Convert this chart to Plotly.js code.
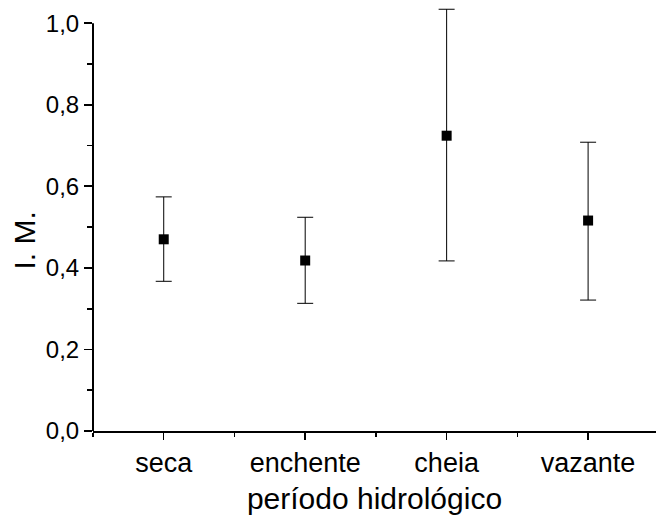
<!DOCTYPE html>
<html>
<head>
<meta charset="utf-8">
<script src="https://cdn.plot.ly/plotly-3.0.1.min.js"></script>
<style>
  html, body { margin: 0; padding: 0; background: #fff; }
  #chart { width: 656px; height: 515px; }
</style>
</head>
<body>
<div id="chart"></div>
<script>
// Índice médio (I. M.) por período hidrológico: média com limites inferior e superior
const categories = ['seca', 'enchente', 'cheia', 'vazante'];
const means = [0.470, 0.418, 0.724, 0.516];
const upper = [0.574, 0.524, 1.034, 0.708];
const lower = [0.367, 0.313, 0.417, 0.321];
const yTickVals = [0, 0.2, 0.4, 0.6, 0.8, 1.0];

const xPos = categories.map((_, i) => i);
const errPlus = upper.map((u, i) => u - means[i]);
const errMinus = lower.map((l, i) => means[i] - l);

const FONT = 'Arial, "Liberation Sans", sans-serif';
const yTop = yTickVals[yTickVals.length - 1];

const trace = {
  type: 'scatter',
  mode: 'markers',
  x: xPos,
  y: means,
  cliponaxis: false,
  marker: { symbol: 'square', size: 10, color: '#000' },
  error_y: {
    type: 'data',
    symmetric: false,
    array: errPlus,
    arrayminus: errMinus,
    color: '#000',
    thickness: 1,
    width: 8
  },
  hoverinfo: 'skip',
  showlegend: false
};

const layout = {
  width: 656,
  height: 515,
  // the value range runs a little past 1,0 so the tallest whisker stays visible;
  // the left axis line itself stops at 1,0 (drawn as a shape below)
  margin: { l: 93, r: 0, t: 6, b: 84 },
  paper_bgcolor: '#fff',
  plot_bgcolor: '#fff',
  separators: ',.',
  font: { family: FONT, color: '#000' },
  xaxis: {
    range: [-0.5, 3.48],
    tickmode: 'array',
    tickvals: xPos,
    ticktext: categories,
    ticks: 'outside',
    ticklen: 7,
    tickwidth: 1.5,
    tickcolor: '#000',
    minor: { tickvals: [-0.5, 0.5, 1.5, 2.5], ticks: 'outside', ticklen: 4, tickwidth: 1.5, tickcolor: '#000' },
    showline: true,
    linecolor: '#000',
    linewidth: 2,
    showgrid: false,
    zeroline: false,
    tickfont: { size: 27, family: FONT, color: '#000' },
    title: { text: 'período hidrológico', font: { size: 30, family: FONT, color: '#000' }, standoff: 13 }
  },
  yaxis: {
    range: [0, 1.042],
    tickmode: 'array',
    tickvals: yTickVals,
    tickformat: '.1f',
    ticks: 'outside',
    ticklen: 8,
    tickwidth: 1.8,
    tickcolor: '#000',
    minor: { dtick: 0.1, tick0: 0, ticks: 'outside', ticklen: 5, tickwidth: 1.8, tickcolor: '#000' },
    showline: false,
    showgrid: false,
    zeroline: false,
    tickfont: { size: 24, family: FONT, color: '#000' }
  },
  shapes: [{
    type: 'line',
    xref: 'paper', yref: 'y',
    x0: 0, x1: 0, y0: 0, y1: yTop,
    line: { color: '#000', width: 2 },
    layer: 'above'
  }],
  annotations: [{
    text: 'I. M.',
    xref: 'paper', yref: 'y',
    x: 0, y: 0.467,
    xanchor: 'center', yanchor: 'middle',
    xshift: -68,
    textangle: -90,
    showarrow: false,
    font: { size: 30, family: FONT, color: '#000' }
  }]
};

Plotly.newPlot('chart', [trace], layout, { displayModeBar: false, staticPlot: true });
</script>
</body>
</html>
